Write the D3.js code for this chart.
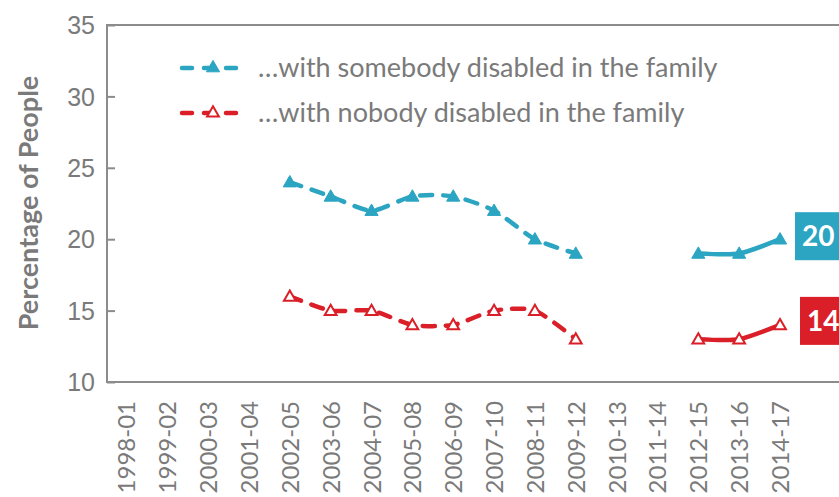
<!DOCTYPE html>
<html>
<head>
<meta charset="utf-8">
<script src="https://cdn.jsdelivr.net/npm/d3@7"></script>
<style>
  body { margin: 0; background: #fff; }
  svg { display: block; font-family: Lato, "Open Sans", sans-serif; }
</style>
</head>
<body>
<div class="chart"></div>
<script>
const years = ["1998-01", "1999-02", "2000-03", "2001-04", "2002-05", "2003-06", "2004-07",
  "2005-08", "2006-09", "2007-10", "2008-11", "2009-12", "2010-13", "2011-14",
  "2012-15", "2013-16", "2014-17"];
const somebody = [null, null, null, null, 24, 23, 22, 23, 23, 22, 20, 19, null, null, 19, 19, 20];
const nobody = [null, null, null, null, 16, 15, 15, 14, 14, 15, 15, 13, null, null, 13, 13, 14];
const yTicks = [10, 15, 20, 25, 30, 35];
const seriesNames = ["…with somebody disabled in the family", "…with nobody disabled in the family"];

const width = 839, height = 497;
const blue = "#2ba5c2", red = "#da1f28", grey = "#7a7a7a", axisGrey = "#8c8c8c";

const svg = d3.select(".chart").append("svg")
  .attr("width", width)
  .attr("height", height);

const x = d3.scaleBand().domain(years).range([106, 106 + 17 * 40.85]);
const y = d3.scaleLinear().domain([10, 35]).range([382, 25]);
const cx = d => x(d) + x.bandwidth() / 2;

// frame (right side runs off the picture)
svg.append("path")
  .attr("d", `M${width + 20},${y(35)}H107V${y(10)}H${width + 20}`)
  .attr("fill", "none")
  .attr("stroke", axisGrey)
  .attr("stroke-width", 2);

// y axis
const yAxis = d3.axisLeft(y).tickValues(yTicks).tickSize(-8).tickPadding(16);
svg.append("g")
  .attr("transform", "translate(107,0)")
  .call(yAxis)
  .call(g => g.select(".domain").remove())
  .call(g => g.selectAll("line").attr("stroke", axisGrey).attr("stroke-width", 2))
  .call(g => g.selectAll("text").attr("fill", grey).style("font-size", "25px")
    .attr("dy", "0.35em").attr("x", -12));

svg.append("text")
  .attr("transform", "translate(38,203) rotate(-90)")
  .attr("text-anchor", "middle")
  .attr("fill", grey)
  .style("font-size", "27px")
  .style("font-weight", "bold")
  .text("Percentage of People");

// x labels
svg.append("g").selectAll("text")
  .data(years)
  .join("text")
  .attr("transform", d => `translate(${cx(d) + 9},401) rotate(-90)`)
  .attr("text-anchor", "end")
  .attr("fill", grey)
  .style("font-size", "24px")
  .text(d => d);

function segments(vals) {
  const segs = [];
  let cur = [];
  vals.forEach((v, i) => {
    if (v == null) { if (cur.length) segs.push(cur); cur = []; }
    else cur.push([years[i], v]);
  });
  if (cur.length) segs.push(cur);
  return segs;
}

const line = d3.line()
  .x(d => cx(d[0]))
  .y(d => y(d[1]))
  .curve(d3.curveCardinal.tension(0.3));

const tri = d3.symbol().type(d3.symbolTriangle);

function drawSeries(vals, color, open) {
  const segs = segments(vals);
  segs.forEach((seg, k) => {
    svg.append("path")
      .attr("d", line(seg))
      .attr("fill", "none")
      .attr("stroke", color)
      .attr("stroke-width", 4.5)
      .attr("stroke-linecap", "round")
      .attr("stroke-dasharray", k === 0 ? "12 11" : null);
  });
  svg.append("g").selectAll("path")
    .data(segs.flat())
    .join("path")
    .attr("transform", d => `translate(${cx(d[0])},${y(d[1]) + 1})`)
    .attr("d", tri.size(open ? 60 : 75)())
    .attr("fill", open ? "#fff" : color)
    .attr("stroke", color)
    .attr("stroke-width", open ? 2 : 1);
}

drawSeries(somebody, blue, false);
drawSeries(nobody, red, true);

// end value labels
const ends = [
  { v: somebody[somebody.length - 1], color: blue, x0: 795, dy: -3 },
  { v: nobody[nobody.length - 1], color: red, x0: 800, dy: -4 }
];
ends.forEach(e => {
  svg.append("rect")
    .attr("x", e.x0).attr("y", y(e.v) + e.dy - 24)
    .attr("width", 60).attr("height", 48)
    .attr("fill", e.color);
  svg.append("text")
    .attr("x", e.x0 + 7).attr("y", y(e.v) + e.dy + 10)
    .attr("fill", "#fff")
    .style("font-size", "28px")
    .style("font-weight", "bold")
    .text(e.v);
});

// legend
const legend = svg.append("g");
[[blue, false], [red, true]].forEach(([color, open], i) => {
  const ly = 68 + i * 45;
  legend.append("line")
    .attr("x1", 182).attr("x2", 243).attr("y1", ly).attr("y2", ly)
    .attr("stroke", color).attr("stroke-width", 4.5)
    .attr("stroke-linecap", "round").attr("stroke-dasharray", "10 12");
  legend.append("path")
    .attr("transform", `translate(213,${ly})`)
    .attr("d", tri.size(open ? 60 : 75)())
    .attr("fill", open ? "#fff" : color)
    .attr("stroke", color)
    .attr("stroke-width", open ? 2 : 1);
  legend.append("text")
    .attr("x", 258).attr("y", ly + 9)
    .attr("fill", grey)
    .style("font-size", "27px")
    .text(seriesNames[i]);
});
</script>
</body>
</html>
